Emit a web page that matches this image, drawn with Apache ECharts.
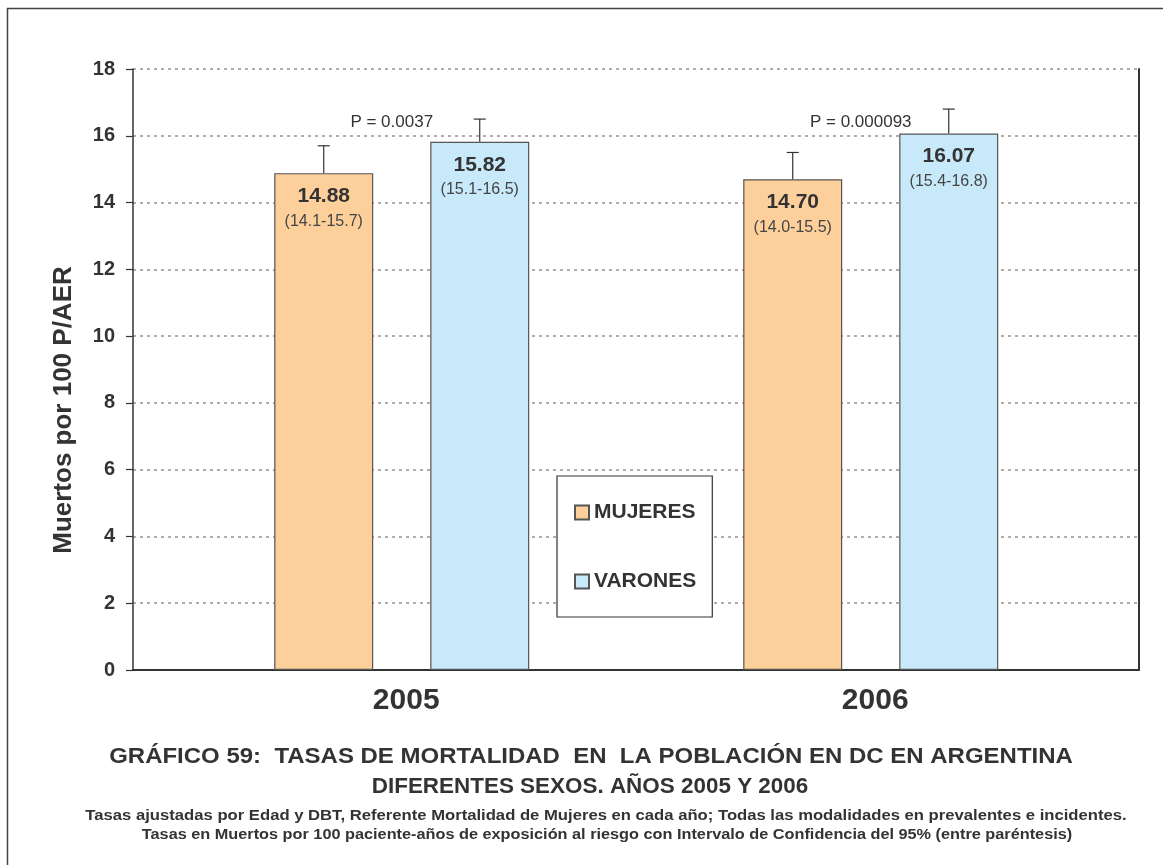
<!DOCTYPE html>
<html>
<head>
<meta charset="utf-8">
<style>
  html, body { margin: 0; padding: 0; background: #fff; }
  #chart { width: 1163px; height: 865px; }
</style>
<script src="https://cdn.jsdelivr.net/npm/echarts@6/dist/echarts.min.js"></script>
</head>
<body>
<div id="chart"></div>
<script>
// Years shown on the horizontal axis
const years = ['2005', '2006'];
// Adjusted mortality rates (deaths per 100 patient-years)
const mujeres = [14.88, 14.70];
const varones = [15.82, 16.07];
// 95% confidence intervals
const mujeresLow = [14.1, 14.0];
const mujeresHigh = [15.7, 15.5];
const varonesLow = [15.1, 15.4];
const varonesHigh = [16.5, 16.8];
// p-values comparing both sexes in each year
const pValues = ['0.0037', '0.000093'];
// Y axis ticks
const yTicks = [0, 2, 4, 6, 8, 10, 12, 14, 16, 18];

const FONT = '"Liberation Sans", Arial, sans-serif';
const TEXT = '#333333';
const BAR_W = 99;
const PAIR_OFFSET = 78; // half the distance between the two bar centres

const chart = echarts.init(document.getElementById('chart'), null, { renderer: 'canvas' });

function barData(vals, lo, hi) {
  return vals.map((v, i) => ({ value: [i, v], lo: lo[i], hi: hi[i] }));
}

function barLabel(params) {
  const d = params.data;
  return '{v|' + d.value[1].toFixed(2) + '}\n{ci|(' + d.lo.toFixed(1) + '-' + d.hi.toFixed(1) + ')}';
}

const labelCfg = {
  show: true,
  position: 'insideTop',
  distance: 10,
  formatter: barLabel,
  rich: {
    v: { fontFamily: FONT, fontSize: 21, fontWeight: 'bold', color: TEXT, lineHeight: 26, align: 'center' },
    ci: { fontFamily: FONT, fontSize: 16, color: '#444', lineHeight: 24, align: 'center' }
  }
};

// Upper whisker from bar top to the upper confidence limit
function whisker(sign, values, highs) {
  return {
    type: 'custom',
    silent: true,
    z: 1,
    data: values.map((v, i) => [i, v, highs[i]]),
    renderItem: function (params, api) {
      const base = api.coord([api.value(0), api.value(1)]);
      const top = api.coord([api.value(0), api.value(2)]);
      const x = base[0] + sign * PAIR_OFFSET;
      return {
        type: 'group',
        children: [
          { type: 'line', shape: { x1: x, y1: base[1], x2: x, y2: top[1] }, style: { stroke: '#333', lineWidth: 1.2 } },
          { type: 'line', shape: { x1: x - 6, y1: top[1], x2: x + 6, y2: top[1] }, style: { stroke: '#333', lineWidth: 1.2 } }
        ]
      };
    }
  };
}

const option = {
  animation: false,
  backgroundColor: '#ffffff',
  grid: { left: 133, right: 24, top: 69, bottom: 195, containLabel: false },
  legend: {
    orient: 'vertical',
    left: 557,
    top: 476,
    padding: [26, 16, 25, 17],
    itemGap: 48,
    itemWidth: 14,
    itemHeight: 14,
    icon: 'rect',
    backgroundColor: '#ffffff',
    borderColor: '#333',
    borderWidth: 1.2,
    borderRadius: 0,
    selectedMode: false,
    textStyle: { fontFamily: FONT, fontSize: 21, fontWeight: 'bold', color: TEXT, lineHeight: 21 },
    data: ['MUJERES', 'VARONES']
  },
  xAxis: {
    type: 'value',
    min: -0.573,
    max: 1.572,
    axisLine: { show: true, onZero: false, lineStyle: { color: '#333', width: 2 } },
    axisTick: { show: false },
    splitLine: { show: false },
    axisLabel: {
      customValues: [0, 1],
      formatter: v => years[Math.round(v)],
      margin: 16,
      fontFamily: FONT,
      fontSize: 30,
      fontWeight: 'bold',
      color: TEXT,
      padding: [0, 0, 0, 9]
    }
  },
  yAxis: [
    {
      type: 'value',
      min: yTicks[0],
      max: yTicks[yTicks.length - 1],
      interval: 2,
      axisLine: { show: true, onZero: false, lineStyle: { color: '#333', width: 1.5 } },
      axisTick: { show: true, length: 7, lineStyle: { color: '#333', width: 1.2 } },
      axisLabel: { margin: 18, fontFamily: FONT, fontSize: 20, fontWeight: 'bold', color: TEXT },
      splitLine: { show: true, lineStyle: { color: '#9e918b', width: 1.5, type: [3, 4] } }
    },
    {
      type: 'value',
      position: 'right',
      min: yTicks[0],
      max: yTicks[yTicks.length - 1],
      interval: 2,
      axisLine: { show: true, onZero: false, lineStyle: { color: '#333', width: 2 } },
      axisTick: { show: false },
      axisLabel: { show: false },
      splitLine: { show: false }
    }
  ],
  series: [
    {
      name: 'MUJERES',
      type: 'bar',
      barWidth: BAR_W,
      barGap: '57.6%',
      z: 2,
      itemStyle: { color: '#fdd09b', borderColor: '#555', borderWidth: 1.2 },
      label: labelCfg,
      data: barData(mujeres, mujeresLow, mujeresHigh)
    },
    {
      name: 'VARONES',
      type: 'bar',
      barWidth: BAR_W,
      z: 2,
      itemStyle: { color: '#c8e9f9', borderColor: '#555', borderWidth: 1.2 },
      label: labelCfg,
      data: barData(varones, varonesLow, varonesHigh)
    },
    whisker(-1, mujeres, mujeresHigh),
    whisker(1, varones, varonesHigh),
    {
      type: 'custom',
      silent: true,
      data: pValues.map((p, i) => [i, 16.4]),
      renderItem: function (params, api) {
        const c = api.coord([api.value(0), api.value(1)]);
        return {
          type: 'text',
          x: c[0] - 10,
          y: c[1],
          style: {
            text: 'P = ' + pValues[params.dataIndex],
            fontFamily: FONT,
            fontSize: 17,
            fill: TEXT,
            align: 'center',
            verticalAlign: 'middle'
          }
        };
      }
    }
  ],
  graphic: [
    {
      type: 'rect',
      silent: true,
      shape: { x: 7.5, y: 8.5, width: 1300, height: 1000 },
      style: { fill: 'none', stroke: '#444', lineWidth: 1.5 }
    },
    {
      type: 'text', silent: true, x: 64, y: 410, rotation: Math.PI / 2,
      style: { text: 'Muertos por 100 P/AER', font: 'bold 26px ' + FONT, fill: TEXT, align: 'center', verticalAlign: 'middle' }
    },
    {
      type: 'text', silent: true, x: 591, y: 757, scaleX: 1.09,
      style: { text: 'GRÁFICO 59:  TASAS DE MORTALIDAD  EN  LA POBLACIÓN EN DC EN ARGENTINA', font: 'bold 22px ' + FONT, fill: TEXT, align: 'center', verticalAlign: 'middle' }
    },
    {
      type: 'text', silent: true, x: 590, y: 787, scaleX: 1.02,
      style: { text: 'DIFERENTES SEXOS. AÑOS 2005 Y 2006', font: 'bold 22px ' + FONT, fill: TEXT, align: 'center', verticalAlign: 'middle' }
    },
    {
      type: 'text', silent: true, x: 606, y: 816, scaleX: 1.11,
      style: { text: 'Tasas ajustadas por Edad y DBT, Referente Mortalidad de Mujeres en cada año; Todas las modalidades en prevalentes e incidentes.', font: 'bold 15px ' + FONT, fill: TEXT, align: 'center', verticalAlign: 'middle' }
    },
    {
      type: 'text', silent: true, x: 607, y: 835, scaleX: 1.085,
      style: { text: 'Tasas en Muertos por 100 paciente-años de exposición al riesgo con Intervalo de Confidencia del 95% (entre paréntesis)', font: 'bold 15px ' + FONT, fill: TEXT, align: 'center', verticalAlign: 'middle' }
    }
  ]
};

chart.setOption(option);
</script>
</body>
</html>
